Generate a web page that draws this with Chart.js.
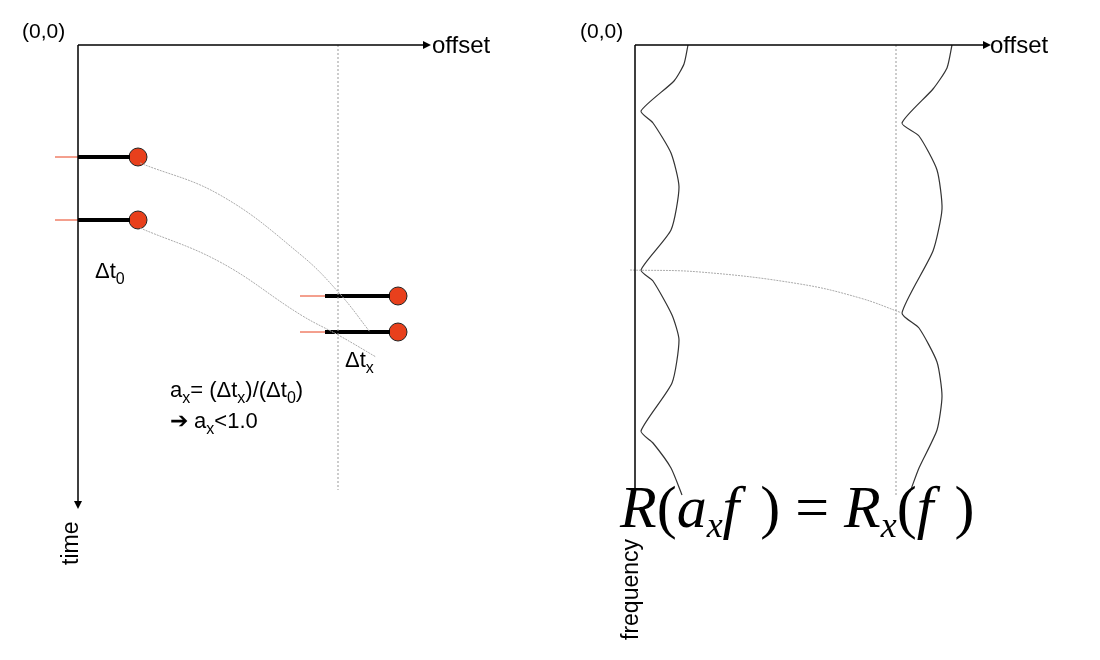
<!DOCTYPE html>
<html><head><meta charset="utf-8">
<script src="https://cdn.jsdelivr.net/npm/chart.js@4"></script>
<style>html,body{margin:0;padding:0;background:#fff}</style>
</head><body>
<canvas id="c" width="1100" height="660"></canvas>
<script>
// Left panel (time domain) — offset (x) and time (y)
const leftAxisX = [[78,45],[425,45]];
const leftAxisY = [[78,45],[78,505]];
const leftRefLine = [[338,45],[338,490]];
const nearTimes = [157,220];
const farTimes = [296,332];
const nearOffsets = {red:[55,78], bar:[78,130], dot:138};
const farOffsets = {red:[300,325], bar:[325,390], dot:398};
const moveoutTop = [[140,163],[220,195],[301,255],[340,294],[370,332]];
const moveoutBottom = [[140,228],[220,262],[301,315],[340,336],[376,357]];
// Right panel (frequency domain)
const rightAxisX = [[635,45],[985,45]];
const rightAxisY = [[635,45],[635,492]];
const rightRefLine = [[896,45],[896,495]];
const spectrumNear = [[688,45],[684,64],[674,81],[641,111],[653,123],[671,153],[679,187],[671,230],[641,270],[653,281],[672,315],[679,340],[672,383],[641,431],[653,443],[671,468],[682,495]];
const spectrumFar = [[952,45],[947,68],[933,89],[902,123],[919,136],[937,170],[942,209],[933,251],[902,313],[919,328],[937,362],[942,396],[937,430],[919,468],[910,492]];
const peakShift = [[630,270],[700,272],[800,284],[860,298],[902,313]];

const P = a => a.map(p=>({x:p[0],y:p[1]}));
const line = (pts,color,w,opt={}) => Object.assign({data:P(pts),showLine:true,borderColor:color,borderWidth:w,pointRadius:0,fill:false,tension:0},opt);
const ds = [];
ds.push(line(leftAxisX,'#000',1.5), line(leftAxisY,'#000',1.5));
ds.push(line(leftRefLine,'#999',1,{borderDash:[2,2]}));
ds.push(line(rightAxisX,'#000',1.5), line(rightAxisY,'#000',1.5));
ds.push(line(rightRefLine,'#999',1,{borderDash:[2,2]}));
ds.push(line(moveoutTop,'#aaa',1,{borderDash:[2,1],tension:0.4}));
ds.push(line(moveoutBottom,'#aaa',1,{borderDash:[2,1],tension:0.4}));
ds.push(line(peakShift,'#aaa',1,{borderDash:[2,1],tension:0.4}));
function events(times,o){
  times.forEach(t=>{
    ds.push(line([[o.red[0],t],[o.red[1],t]],'#e8401c',1));
    ds.push(line([[o.bar[0],t],[o.bar[1],t]],'#000',4));
    ds.push({data:[{x:o.dot,y:t}],showLine:false,pointRadius:9,pointBackgroundColor:'#e8401c',pointBorderColor:'#222',pointBorderWidth:1});
  });
}
events(nearTimes,nearOffsets); events(farTimes,farOffsets);
ds.push(line(spectrumNear,'#333',1.2,{tension:0.2}));
ds.push(line(spectrumFar,'#333',1.2,{tension:0.2}));

const deco = {id:'deco',afterDatasetsDraw(ch){
  const c=ch.ctx, X=ch.scales.x, Y=ch.scales.y;
  const px=v=>X.getPixelForValue(v), py=v=>Y.getPixelForValue(v);
  c.save(); c.fillStyle='#000';
  const arrowR=(x,y)=>{c.beginPath();c.moveTo(px(x)+8,py(y));c.lineTo(px(x),py(y)-4);c.lineTo(px(x),py(y)+4);c.fill();};
  const arrowD=(x,y)=>{c.beginPath();c.moveTo(px(x),py(y)+8);c.lineTo(px(x)-4,py(y));c.lineTo(px(x)+4,py(y));c.fill();};
  arrowR(leftAxisX[1][0]-2,45); arrowD(78,leftAxisY[1][1]-4); arrowR(rightAxisX[1][0]-2,45);
  const F='"Liberation Sans", Arial, sans-serif';
  const txt=(s,x,y,size,al='left',bl='middle')=>{c.font=size+'px '+F;c.textAlign=al;c.textBaseline=bl;c.fillText(s,px(x),py(y));return c.measureText(s).width;};
  txt('(0,0)',22,32,21); txt('offset',432,46,24);
  txt('(0,0)',580,32,21); txt('offset',990,46,24);
  const rot=(s,x,y)=>{c.save();c.translate(px(x),py(y));c.rotate(-Math.PI/2);c.font='23px '+F;c.textAlign='left';c.textBaseline='middle';c.fillText(s,0,0);c.restore();};
  rot('time',72,565); rot('frequency',632,640);
  const seq=(parts,x,y)=>{let cx=px(x);parts.forEach(([s,sub])=>{c.font=(sub?16:22)+'px '+F;c.textAlign='left';c.textBaseline='alphabetic';c.fillText(s,cx,py(y)+(sub?6:0));cx+=c.measureText(s).width;});};
  seq([['Δt'],['0',1]],95,278);
  seq([['Δt'],['x',1]],345,367);
  seq([['a'],['x',1],['= (Δt'],['x',1],[')/(Δt'],['0',1],[')']],170,397);
  seq([['➔ a'],['x',1],['<1.0']],170,428);
  let cx=px(620); const by=py(527);
  const f=[['R','i',60],['(','n',60],['a','i',60],['x','i',36,10],['f','i',60],[' )','n',60],[' = ','n',60],['R','i',60],['x','i',36,10],['(','n',60],['f','i',60],[' )','n',60]];
  f.forEach(([s,st,sz,dy])=>{c.font=(st==='i'?'italic ':'')+sz+'px "Liberation Serif", "Times New Roman", serif';c.textBaseline='alphabetic';c.textAlign='left';c.fillText(s,cx,by+(dy||0));cx+=c.measureText(s).width+(s==='f'?6:0);});
  c.restore();
}};

new Chart(document.getElementById('c'),{type:'scatter',data:{datasets:ds},
 options:{responsive:false,devicePixelRatio:1,animation:false,layout:{padding:0,autoPadding:false},
  plugins:{legend:{display:false},tooltip:{enabled:false}},
  scales:{x:{type:'linear',min:0,max:1100,display:false},y:{type:'linear',min:0,max:660,reverse:true,display:false}}},
 plugins:[deco]});
</script></body></html>
